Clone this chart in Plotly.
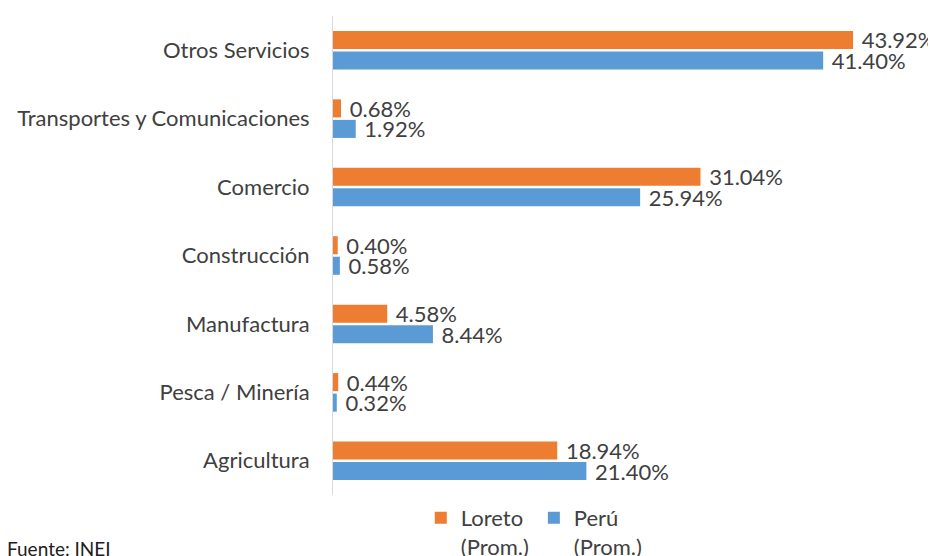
import plotly.graph_objects as go

categories = ["Otros Servicios", "Transportes y Comunicaciones", "Comercio",
              "Construcción", "Manufactura", "Pesca / Minería", "Agricultura"]
loreto = [43.92, 0.68, 31.04, 0.40, 4.58, 0.44, 18.94]
peru = [41.40, 1.92, 25.94, 0.58, 8.44, 0.32, 21.40]
series_names = ["Loreto<br>(Prom.)", "Perú<br>(Prom.)"]

FONT = "Lato, 'Open Sans', sans-serif"
TXT = "#404040"
NB = "\u00a0"

fig = go.Figure()
# Perú added first so that Loreto is drawn above it within each group
fig.add_trace(go.Bar(
    y=categories, x=peru, orientation="h", name=series_names[1],
    marker=dict(color="#5B9BD5", line=dict(width=0)),
    text=[f"{NB}{v:.2f}%" for v in peru],
    textposition="outside", constraintext="none",
    textfont=dict(size=22, color=TXT, family=FONT), cliponaxis=False))
fig.add_trace(go.Bar(
    y=categories, x=loreto, orientation="h", name=series_names[0],
    marker=dict(color="#ED7D31", line=dict(width=0)),
    text=[f"{NB}{v:.2f}%" for v in loreto],
    textposition="outside", constraintext="none",
    textfont=dict(size=22, color=TXT, family=FONT), cliponaxis=False))

fig.update_layout(
    width=928, height=548,
    margin=dict(l=325, r=11, t=8, b=61, autoexpand=False),
    paper_bgcolor="white", plot_bgcolor="white",
    barmode="group", bargap=0.40, bargroupgap=0.12,
    font=dict(family=FONT, size=22, color=TXT),
    xaxis=dict(range=[0, 50], showgrid=False, zeroline=False,
               showticklabels=False, ticks=""),
    yaxis=dict(categoryorder="array", categoryarray=categories[::-1],
               automargin=False, showline=True, linecolor="#d9d9d9", linewidth=1,
               ticks="", ticklabelstandoff=18, tickfont=dict(size=22, color=TXT)),
    legend=dict(orientation="h", x=0.34, xanchor="center", y=-0.004, yanchor="top",
                traceorder="reversed", valign="top",
                font=dict(size=22, color=TXT), itemwidth=30),
    annotations=[dict(text="Fuente: INEI", xref="paper", yref="paper",
                      x=-0.554, y=-0.111, xanchor="left", yanchor="middle",
                      showarrow=False, font=dict(size=19, color="#202020"))],
)
fig.write_html("out.html")
